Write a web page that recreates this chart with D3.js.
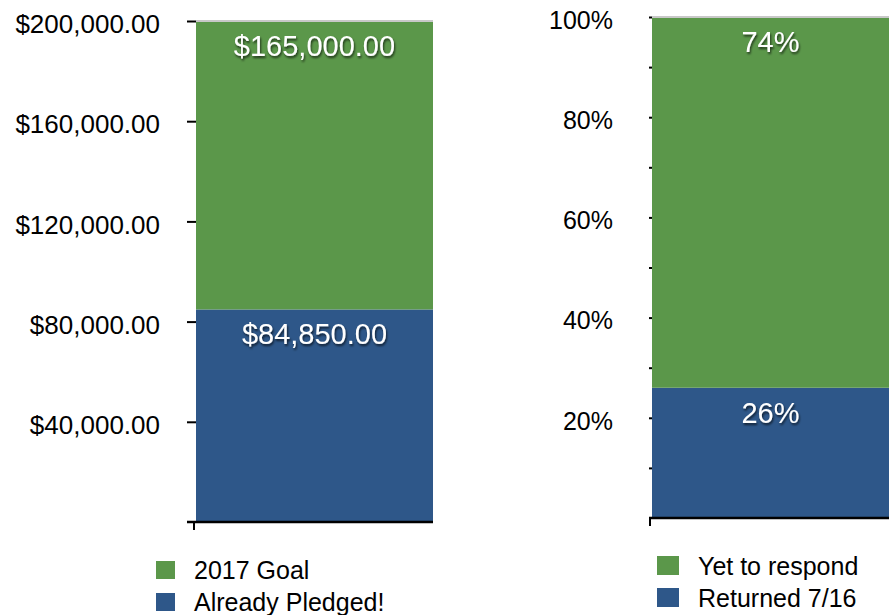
<!DOCTYPE html>
<html>
<head>
<meta charset="utf-8">
<script src="https://cdn.jsdelivr.net/npm/d3@7"></script>
<style>
  body { margin: 0; background: #fff; }
  text { font-family: "Liberation Sans", Arial, Helvetica, sans-serif; }
  .axis .domain { display: none; }
  .axis line { stroke: #000; }
  .axis text { fill: #000; }
  .bar-label { fill: #fff; text-anchor: middle; }
</style>
</head>
<body>
<div id="chart"></div>
<script>
// Left chart: pledges vs goal
const pledgeCategories = ["Already Pledged!", "2017 Goal"];
const pledgeValues = [84850, 165000];
const pledgeTicks = [40000, 80000, 120000, 160000, 200000];

// Right chart: responses
const responseCategories = ["Returned 7/16", "Yet to respond"];
const responseValues = [26, 74];
const responseTicks = [10, 20, 30, 40, 50, 60, 70, 80, 90, 100];
const responseLabeled = [20, 40, 60, 80, 100];

const seriesColors = ["#2e5789", "#5b974a"];

const svg = d3.select("#chart").append("svg")
    .attr("width", 889)
    .attr("height", 615);

// drop shadow for the white value labels
let defs = svg.append("defs");
defs.append("filter")
    .attr("id", "shadow")
    .attr("x", "-20%").attr("y", "-40%")
    .attr("width", "140%").attr("height", "180%")
  .append("feDropShadow")
    .attr("dx", 1).attr("dy", 2)
    .attr("stdDeviation", 1.2)
    .attr("flood-color", "#000")
    .attr("flood-opacity", 0.65);

class StackedBarVis {
  constructor(_id, _opts) {
    this.id = _id;
    Object.assign(this, _opts);
    this.initVis();
  }

  initVis() {
    let vis = this;

    vis.g = svg.append("g").attr("class", "panel-" + vis.id);

    vis.y = d3.scaleLinear()
        .domain([0, vis.max])
        .range([vis.bottom, vis.top]);
    vis.x = d3.scaleBand()
        .domain([vis.id])
        .range([vis.left, vis.right]);

    // clip so the stack can't go past the top of the axis
    defs.append("clipPath")
        .attr("id", "clip-" + vis.id)
      .append("rect")
        .attr("x", vis.left)
        .attr("y", vis.top)
        .attr("width", vis.right - vis.left)
        .attr("height", vis.bottom - vis.top);

    let row = {};
    vis.categories.forEach((c, i) => row[c] = vis.values[i]);
    vis.series = d3.stack().keys(vis.categories)([row]);

    vis.drawVis();
  }

  drawVis() {
    let vis = this;

    // bars
    vis.g.append("g")
        .attr("clip-path", "url(#clip-" + vis.id + ")")
      .selectAll("rect")
      .data(vis.series)
      .enter().append("rect")
        .attr("x", vis.x(vis.id))
        .attr("width", vis.x.bandwidth())
        .attr("y", d => vis.y(d[0][1]))
        .attr("height", d => vis.y(d[0][0]) - vis.y(d[0][1]))
        .attr("fill", (d, i) => seriesColors[i]);

    // grey line along the top
    vis.g.append("line")
        .attr("x1", vis.x(vis.id))
        .attr("x2", vis.x(vis.id) + vis.x.bandwidth())
        .attr("y1", vis.y(vis.max))
        .attr("y2", vis.y(vis.max))
        .attr("stroke", "#c8c8c8")
        .attr("stroke-width", 2);

    // y axis
    let yAxis = d3.axisLeft(vis.y)
        .tickValues(vis.ticks)
        .tickSize(vis.tickSize)
        .tickPadding(vis.tickPadding)
        .tickFormat(d => vis.labeled.includes(d) ? vis.format(d) : "");
    let ax = vis.g.append("g")
        .attr("class", "axis")
        .attr("transform", `translate(${vis.left},0)`)
        .call(yAxis);
    ax.selectAll("line").attr("stroke-width", 2);
    ax.selectAll("text")
        .attr("dy", "0.45em")
        .style("font-size", vis.fontSize + "px");

    // x baseline
    vis.g.append("line")
        .attr("x1", vis.left - vis.tickSize)
        .attr("x2", vis.right)
        .attr("y1", vis.y(0))
        .attr("y2", vis.y(0))
        .attr("stroke", "#000")
        .attr("stroke-width", 2.5);
    vis.g.append("line")
        .attr("x1", vis.left - 2)
        .attr("x2", vis.left - 2)
        .attr("y1", vis.y(0))
        .attr("y2", vis.y(0) + 8)
        .attr("stroke", "#000")
        .attr("stroke-width", 2);

    // value labels
    vis.g.selectAll(".bar-label")
      .data(vis.series)
      .enter().append("text")
        .attr("class", "bar-label")
        .attr("filter", "url(#shadow)")
        .style("font-size", "29px")
        .attr("x", vis.x(vis.id) + vis.x.bandwidth() / 2)
        .attr("y", d => Math.max(vis.y(d[0][1]), vis.y(vis.max)) + 35)
        .text((d, i) => vis.format(vis.values[i]));

    // legend, top item is the top segment
    let legendItems = vis.categories.map((c, i) => ({ name: c, color: seriesColors[i] })).reverse();
    let legend = vis.g.selectAll(".legend-item")
      .data(legendItems)
      .enter().append("g")
        .attr("class", "legend-item")
        .attr("transform", (d, i) => `translate(${vis.legendX},${vis.legendY + i * 32})`);
    legend.append("rect")
        .attr("width", vis.swatch[0])
        .attr("height", vis.swatch[1])
        .attr("fill", d => d.color);
    legend.append("text")
        .attr("x", vis.swatch[0] + 19)
        .attr("y", vis.swatch[1])
        .style("font-size", "25px")
        .text(d => d.name);
  }
}

new StackedBarVis("pledges", {
  categories: pledgeCategories,
  values: pledgeValues,
  ticks: pledgeTicks,
  labeled: pledgeTicks,
  max: 200000,
  format: d3.format("$,.2f"),
  left: 196, right: 433, top: 21, bottom: 522,
  tickSize: 9, tickPadding: 27, fontSize: 26,
  legendX: 156, legendY: 561, swatch: [19, 18]
});

new StackedBarVis("responses", {
  categories: responseCategories,
  values: responseValues,
  ticks: responseTicks,
  labeled: responseLabeled,
  max: 100,
  format: d => d + "%",
  left: 652, right: 889, top: 17, bottom: 518,
  tickSize: 3, tickPadding: 36, fontSize: 25,
  legendX: 657, legendY: 556, swatch: [22, 19]
});
</script>
</body>
</html>
